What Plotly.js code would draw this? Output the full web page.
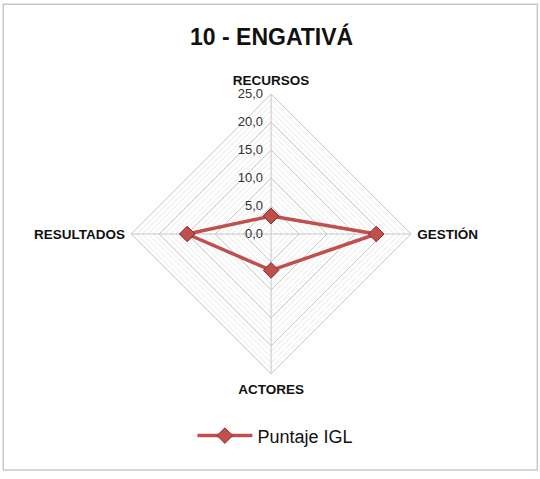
<!DOCTYPE html>
<html>
<head>
<meta charset="utf-8">
<script src="https://cdn.plot.ly/plotly-3.0.1.min.js"></script>
<style>
    html, body { margin: 0; padding: 0; background: #fff; }
    #chart { width: 540px; height: 479px; }
</style>
</head>
<body>
<div id="chart"></div>
<script>
// Radar: 10 - ENGATIVÁ
const categories = ['RECURSOS', 'GESTIÓN', 'ACTORES', 'RESULTADOS'];
const puntaje = [3.2, 18.8, 6.5, 15.0];
const radialTicks = [0, 5, 10, 15, 20, 25];

const font = 'Liberation Sans, Arial, sans-serif';
const domain = { x: [0.243, 0.761], y: [0.219, 0.804] };

// closed polygon
const rVals = puntaje.concat([puntaje[0]]);
const thetaVals = categories.concat([categories[0]]);

const minorTrace = {
    type: 'scatterpolar',
    r: categories.map(() => 0),
    theta: categories,
    subplot: 'polar',
    mode: 'lines',
    line: { width: 0 },
    hoverinfo: 'skip',
    showlegend: false
};

const mainTrace = {
    type: 'scatterpolar',
    r: rVals,
    theta: thetaVals,
    subplot: 'polar2',
    mode: 'lines+markers',
    name: 'Puntaje IGL',
    line: { color: '#c0504d', width: 3.5 },
    marker: { symbol: 'diamond', size: 12, color: '#c0504d', line: { color: '#8c2b28', width: 1 } }
};

const baseAngular = {
    type: 'category',
    categoryarray: categories,
    direction: 'clockwise',
    rotation: 90
};

const layout = {
    width: 540,
    height: 479,
    margin: { t: 0, r: 0, b: 0, l: 0 },
    paper_bgcolor: '#fff',
    separators: ',.',
    font: { family: font, color: '#222' },
    title: {
        text: '<b>10 - ENGATIVÁ</b>',
        font: { family: font, size: 23, color: '#111' },
        x: 0.503, xanchor: 'center',
        y: 0.922, yanchor: 'middle'
    },
    polar: {
        domain: domain,
        gridshape: 'linear',
        bgcolor: '#fff',
        radialaxis: {
            range: [0, 25], dtick: 1, showline: false, showticklabels: false,
            ticks: '', gridcolor: '#e8e8e8', gridwidth: 1
        },
        angularaxis: Object.assign({}, baseAngular, {
            showline: false, showgrid: false, showticklabels: false, ticks: ''
        })
    },
    polar2: {
        domain: domain,
        gridshape: 'linear',
        bgcolor: 'rgba(0,0,0,0)',
        radialaxis: {
            range: [0, 25],
            tickvals: radialTicks,
            tickformat: '.1f',
            angle: 90,
            side: 'counterclockwise',
            tickangle: 90,
            showline: false,
            ticks: 'outside', ticklen: 3, tickcolor: 'rgba(0,0,0,0)',
            gridcolor: '#c6c6c6',
            gridwidth: 1,
            tickfont: { family: font, size: 13, color: '#333' }
        },
        angularaxis: Object.assign({}, baseAngular, {
            showline: true, linecolor: '#c6c6c6', linewidth: 1,
            showgrid: true, gridcolor: '#c6c6c6',
            ticks: 'outside', ticklen: 3, tickcolor: 'rgba(0,0,0,0)',
            tickfont: { family: font, size: 13.5, color: '#111', weight: 'bold' }
        })
    },
    showlegend: true,
    legend: {
        orientation: 'h',
        x: 0.51, xanchor: 'center',
        y: 0.09, yanchor: 'middle',
        itemwidth: 55,
        font: { family: font, size: 18, color: '#111' }
    },
    shapes: [{
        type: 'rect', xref: 'paper', yref: 'paper',
        x0: 0.006, x1: 0.995, y0: 0.019, y1: 0.991,
        line: { color: '#c8c8c8', width: 1.5 }
    }]
};

Plotly.newPlot('chart', [minorTrace, mainTrace], layout, { displayModeBar: false, staticPlot: true });
</script>
</body>
</html>
